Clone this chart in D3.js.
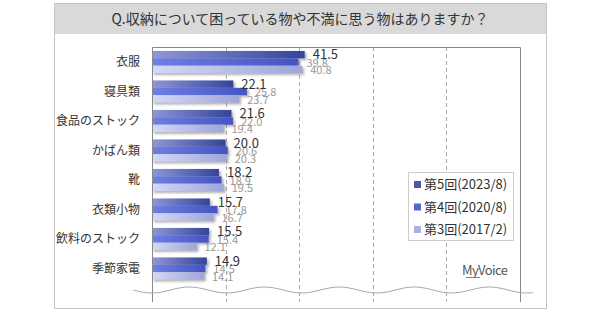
<!DOCTYPE html>
<html>
<head>
<meta charset="utf-8">
<script src="https://cdn.jsdelivr.net/npm/d3@7"></script>
<style>
  body { margin: 0; background: #fff; }
  text { font-family: "Noto Sans CJK JP", "Noto Sans", sans-serif; }
</style>
</head>
<body>
<div id="chart"></div>
<script>
// Chart data
const categories = ["衣服", "寝具類", "食品のストック", "かばん類", "靴", "衣類小物", "飲料のストック", "季節家電"];
const seriesNames = ["第5回(2023/8)", "第4回(2020/8)", "第3回(2017/2)"];
const values2023 = [41.5, 22.1, 21.6, 20.0, 18.2, 15.7, 15.5, 14.9];
const values2020 = [39.8, 25.8, 22.0, 20.6, 18.9, 17.8, 15.4, 14.5];
const values2017 = [40.8, 23.7, 19.4, 20.3, 19.5, 16.7, 12.1, 14.1];
const gridTicks = [20, 40, 60, 80];
const titleText = "Q.収納について困っている物や不満に思う物はありますか？";

const width = 600, height = 312;
const series = [values2023, values2020, values2017];
const gradColors = [["#8e97d6", "#34449a"], ["#6f7fe2", "#4454c4"], ["#d4d9f6", "#9ea6da"]];
const legendColors = ["#4a58a8", "#5566cc", "#aab2e2"];

const svg = d3.select("#chart").append("svg")
    .attr("width", width)
    .attr("height", height);

const defs = svg.append("defs");
gradColors.forEach((c, i) => {
    const g = defs.append("linearGradient").attr("id", "grad" + i)
        .attr("x1", "0%").attr("x2", "100%").attr("y1", "0%").attr("y2", "0%");
    g.append("stop").attr("offset", "0%").attr("stop-color", c[0]);
    g.append("stop").attr("offset", "100%").attr("stop-color", c[1]);
});
defs.append("filter").attr("id", "shadow")
    .attr("x", "-5%").attr("y", "-20%").attr("width", "120%").attr("height", "160%")
  .append("feDropShadow")
    .attr("dx", 2).attr("dy", 2).attr("stdDeviation", 1)
    .attr("flood-color", "#777").attr("flood-opacity", 0.55);

// Outer frame and title band
svg.append("rect").attr("x", 54.5).attr("y", 3.5).attr("width", 492).attr("height", 305)
    .attr("fill", "#fff").attr("stroke", "#c4c4c4");
svg.append("rect").attr("x", 55).attr("y", 4).attr("width", 491).attr("height", 30)
    .attr("fill", "#d9d9d9");
svg.append("text").attr("x", 300).attr("y", 19).attr("dy", "0.35em")
    .attr("text-anchor", "middle").attr("font-size", 14).attr("fill", "#333")
    .text(titleText);

// Scales
const x = d3.scaleLinear().domain([0, 100]).range([152, 520]);
const y = d3.scaleBand().domain(categories).range([47.25, 283.25])
    .paddingInner(0.25).paddingOuter(0.125);
const ySub = d3.scaleBand().domain(d3.range(3)).range([0, y.bandwidth()]);

// Gridlines
svg.append("g").selectAll("line").data(gridTicks).join("line")
    .attr("x1", d => Math.round(x(d)) + 0.5).attr("x2", d => Math.round(x(d)) + 0.5)
    .attr("y1", 47).attr("y2", 302)
    .attr("stroke", "#aaa").attr("stroke-dasharray", "4,3");

// Bars
const bars = svg.append("g").attr("filter", "url(#shadow)");
series.forEach((vals, i) => {
    bars.selectAll(".s" + i).data(vals).join("rect")
        .attr("class", "s" + i)
        .attr("x", x(0))
        .attr("y", (d, j) => y(categories[j]) + ySub(i))
        .attr("width", d => x(d) - x(0))
        .attr("height", ySub.bandwidth())
        .attr("fill", `url(#grad${i})`);
});

// Value labels (gray ones first, so the main label sits on top)
[2, 1, 0].forEach(i => {
    svg.append("g").selectAll("text").data(series[i]).join("text")
        .attr("x", d => x(d) + (i === 0 ? 8 : 8))
        .attr("y", (d, j) => y(categories[j]) + ySub(i) + ySub.bandwidth() / 2 + (i === 0 ? 0 : 1))
        .attr("dy", "0.35em")
        .attr("font-size", i === 0 ? 13 : 11)
        .attr("fill", i === 0 ? "#333" : "#999")
        .text(d => d.toFixed(1));
});

// Plot frame: left axis, top and right borders
svg.append("path")
    .attr("d", `M152.5,302 V47.5 H520.5 V302`)
    .attr("fill", "none").attr("stroke", "#888");

// Category labels
svg.append("g").selectAll("text").data(categories).join("text")
    .attr("x", 140)
    .attr("y", d => y(d) + y.bandwidth() / 2)
    .attr("dy", "0.35em")
    .attr("text-anchor", "end").attr("font-size", 12).attr("fill", "#333")
    .text(d => d);

// Wavy break line
const waveX = d3.range(133, 534, 2);
svg.append("path")
    .datum(waveX)
    .attr("d", d3.line().x(d => d).y(d => 290 + 3 * Math.sin((d - 133) / 75 * 2 * Math.PI)).curve(d3.curveBasis))
    .attr("fill", "none").attr("stroke", "#aaa");

// Legend
const lg = svg.append("g");
lg.append("rect").attr("x", 408.5).attr("y", 172.5).attr("width", 105).attr("height", 68)
    .attr("fill", "#fff").attr("stroke", "#ccc");
seriesNames.forEach((name, i) => {
    const cy = 184.5 + i * 22.5;
    lg.append("rect").attr("x", 414).attr("y", cy - 3.5).attr("width", 7).attr("height", 7)
        .attr("fill", legendColors[i]);
    lg.append("text").attr("x", 424).attr("y", cy).attr("dy", "0.35em")
        .attr("font-size", 13).attr("fill", "#333").text(name);
});

// MyVoice mark
svg.append("text").attr("x", 462).attr("y", 270).attr("dy", "0.35em")
    .attr("font-size", 13).attr("fill", "#555").attr("letter-spacing", -0.6)
    .attr("font-family", "Liberation Serif, serif")
    .text("MyVoice");
svg.append("line").attr("x1", 466).attr("x2", 480).attr("y1", 277.5).attr("y2", 277.5)
    .attr("stroke", "#d06060").attr("stroke-width", 1);
</script>
</body>
</html>
